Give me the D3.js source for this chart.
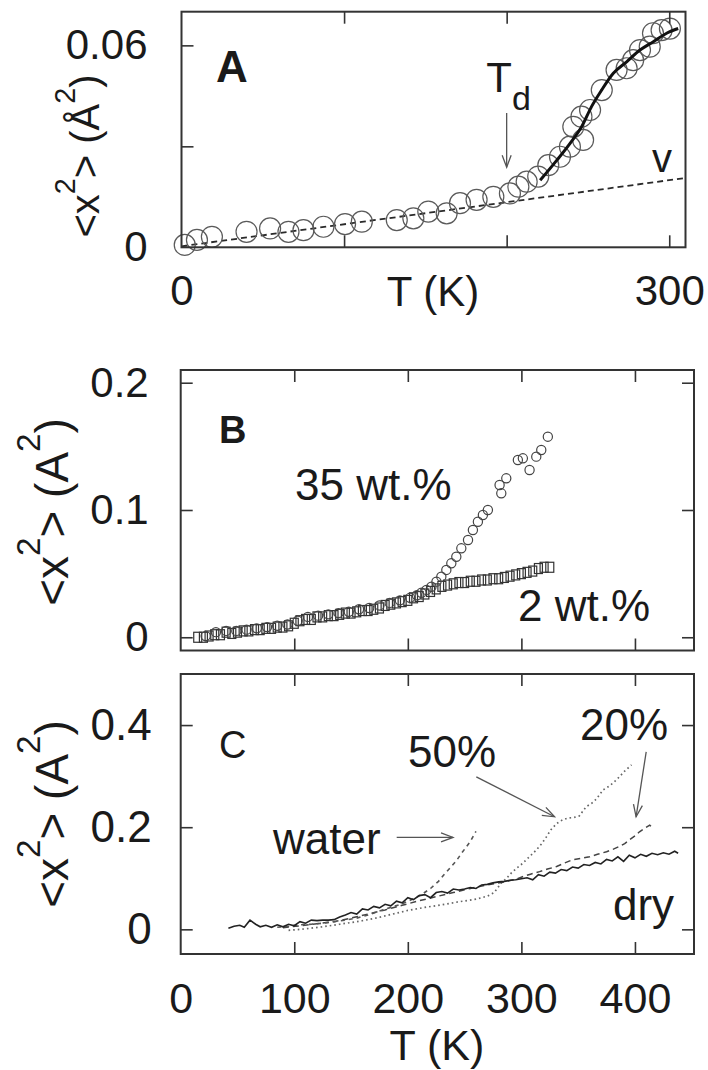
<!DOCTYPE html>
<html>
<head>
<meta charset="utf-8">
<script src="https://cdn.jsdelivr.net/npm/d3@7"></script>
<style>
  html, body { margin: 0; padding: 0; background: #fff; }
  svg { display: block; font-family: "Liberation Sans", Arial, Helvetica, sans-serif; }
</style>
</head>
<body>
<svg id="fig" width="708" height="1070"></svg>
<script>
// ---------- Panel A: mean-square displacement vs temperature ----------
const aTemp = [2, 9.5, 18.7, 40, 54.5, 65.8, 75, 87.3, 100.6, 110.9,
  132.4, 142.6, 151.8, 163.1, 171.3, 181.5, 191.8, 202, 207.2, 212.3,
  219.4, 225.6, 232.8, 238.9, 241, 246, 247, 251.3, 258.5, 267.6,
  273.8, 277.8, 282, 288, 290, 295.3, 300.4];
const aMsd = [0.0007, 0.0022, 0.0031, 0.0046, 0.0056, 0.0046, 0.0051, 0.0061, 0.0069, 0.0076,
  0.0081, 0.0086, 0.0106, 0.0101, 0.0131, 0.0141, 0.0150, 0.0160, 0.0180, 0.0195,
  0.0210, 0.0244, 0.0269, 0.0299, 0.0358, 0.0388, 0.0319, 0.0408, 0.0467, 0.0527,
  0.0532, 0.0556, 0.0586, 0.0596, 0.0636, 0.0645, 0.0650];
// fitted curve above the transition
const aFitTemp = [220.6, 230.9, 239, 246.1, 252.2, 258.4, 265.6, 273.8, 282, 290.2, 298.4, 305.5];
const aFitMsd  = [0.0199, 0.0259, 0.0309, 0.0358, 0.0418, 0.0467, 0.0517, 0.0551, 0.0586, 0.0611, 0.0636, 0.0650];
// harmonic (vibrational) line
const aHarmTemp = [0, 310];
const aHarmMsd  = [0.0003, 0.0206];
const aXTicks = [100, 200, 300];
const aXLabels = [0, 300];
const aYTicks = [0.03, 0.06];
const aYLabels = [0, 0.06];

// ---------- Panel B: two hydration levels ----------
const b2Temp = [15, 20, 25, 30, 35, 40, 45, 50, 55, 60, 65, 70, 75, 80, 85, 90, 95, 100,
  105, 110, 115, 120, 125, 130, 135, 140, 145, 150, 155, 160, 165, 170, 175, 180, 185,
  190, 195, 200, 205, 210, 215, 220, 225, 230, 235, 240, 245, 250, 255, 260, 265, 270,
  275, 280, 285, 290, 295, 300, 305, 310, 315, 320, 325];
const b2Msd = [0.000, 0.000, 0.001, 0.002, 0.002, 0.004, 0.003, 0.004, 0.005, 0.005, 0.006,
  0.006, 0.007, 0.007, 0.008, 0.008, 0.009, 0.011, 0.013, 0.014, 0.014, 0.016, 0.016, 0.017,
  0.017, 0.018, 0.019, 0.019, 0.020, 0.021, 0.021, 0.022, 0.023, 0.025, 0.026, 0.027, 0.028,
  0.029, 0.031, 0.032, 0.034, 0.036, 0.038, 0.040, 0.041, 0.042, 0.043, 0.043, 0.044, 0.044,
  0.045, 0.045, 0.046, 0.046, 0.047, 0.048, 0.049, 0.050, 0.051, 0.052, 0.054, 0.055, 0.055];
const b35Temp = [22, 31, 40, 49, 58, 67, 76, 85, 94, 103, 112, 121, 130, 139, 148, 157, 166,
  175, 184, 193, 202, 208, 212, 216.4, 220.8, 225.2, 229.5, 233.9, 238.3, 242.7, 247.1, 253,
  257.3, 261.7, 266.1, 270.5, 280.8, 282.3, 286.7, 296.9, 301.3, 307.2, 313.1, 317.5, 323.3];
const b35Msd = [0.001, 0.004, 0.005, 0.005, 0.006, 0.007, 0.008, 0.009, 0.010, 0.013, 0.016,
  0.017, 0.018, 0.019, 0.020, 0.022, 0.023, 0.025, 0.027, 0.029, 0.031, 0.033, 0.035, 0.0372,
  0.0397, 0.0437, 0.0476, 0.0529, 0.0581, 0.0633, 0.0699, 0.0764, 0.0843, 0.0908, 0.0961,
  0.1000, 0.1196, 0.1131, 0.1249, 0.1393, 0.1406, 0.1314, 0.1419, 0.1471, 0.1576];
const bXTicks = [100, 200, 300, 400];
const bYTicks = [0, 0.1, 0.2];

// ---------- Panel C: dry, 20 %, 50 % and bulk water ----------
const cDryTemp = [42, 47, 52, 56, 61, 66, 70, 75, 80, 85, 90, 95, 100, 105, 110, 115, 120,
  125, 130, 135, 140, 145, 150, 155, 160, 165, 170, 175, 180, 185, 190, 195, 200, 205, 210,
  215, 220, 225, 230, 235, 240, 245, 250, 255, 260, 265, 270, 275, 280, 285, 290, 295, 300,
  305, 310, 315, 320, 325, 330, 335, 340, 345, 350, 355, 360, 365, 370, 375, 380, 385, 390,
  395, 400, 405, 410, 415, 420, 425, 430, 435, 438];
const cDryMsd = [0.002, 0.006, 0.008, 0.004, 0.018, 0.010, 0.005, 0.008, 0.004, 0.009, 0.005,
  0.010, 0.007, 0.015, 0.012, 0.018, 0.017, 0.018, 0.018, 0.019, 0.024, 0.028, 0.033, 0.030,
  0.040, 0.038, 0.045, 0.042, 0.049, 0.046, 0.055, 0.052, 0.062, 0.058, 0.066, 0.068, 0.062,
  0.072, 0.074, 0.071, 0.079, 0.077, 0.079, 0.082, 0.080, 0.087, 0.088, 0.091, 0.093, 0.094,
  0.096, 0.097, 0.099, 0.101, 0.097, 0.107, 0.104, 0.112, 0.110, 0.117, 0.115, 0.122, 0.120,
  0.127, 0.125, 0.131, 0.128, 0.137, 0.134, 0.142, 0.133, 0.145, 0.140, 0.147, 0.143, 0.149,
  0.146, 0.150, 0.147, 0.153, 0.149];
const cWaterTemp = [85, 95, 105, 115, 125, 135, 145, 155, 165, 175, 185, 195, 205, 212, 220,
  227, 233, 238, 243, 247, 251, 255, 258, 260];
const cWaterMsd = [0.004, 0.006, 0.009, 0.010, 0.012, 0.015, 0.018, 0.022, 0.028, 0.036, 0.043,
  0.050, 0.060, 0.068, 0.080, 0.094, 0.110, 0.122, 0.135, 0.148, 0.160, 0.172, 0.184, 0.192];
const c50Temp = [95, 110, 125, 140, 155, 170, 185, 200, 215, 230, 245, 260, 270, 276, 282, 287,
  291, 296, 301, 307, 313, 318, 322, 326, 331, 336, 341, 346, 351, 357, 362, 366, 372, 377,
  381, 386, 391, 397];
const c50Msd = [-0.002, 0.001, 0.005, 0.010, 0.015, 0.021, 0.029, 0.037, 0.043, 0.048, 0.054,
  0.059, 0.065, 0.072, 0.090, 0.100, 0.110, 0.120, 0.129, 0.142, 0.155, 0.168, 0.181, 0.195,
  0.207, 0.214, 0.218, 0.219, 0.222, 0.240, 0.247, 0.255, 0.273, 0.280, 0.287, 0.298, 0.310,
  0.322];
const c20Temp = [90, 105, 120, 135, 150, 165, 180, 195, 210, 225, 240, 255, 270, 285, 295, 301,
  308, 316, 323, 331, 338, 345, 353, 360, 367, 375, 381, 386, 391, 395, 400, 404, 408, 413, 415];
const c20Msd = [0.003, 0.007, 0.011, 0.015, 0.022, 0.030, 0.038, 0.047, 0.056, 0.064, 0.072,
  0.080, 0.087, 0.093, 0.098, 0.103, 0.108, 0.113, 0.118, 0.123, 0.130, 0.136, 0.139, 0.142,
  0.147, 0.152, 0.157, 0.162, 0.168, 0.175, 0.183, 0.191, 0.197, 0.204, 0.200];
const cXTicks = [100, 200, 300, 400];
const cXLabels = [0, 100, 200, 300, 400];
const cYTicks = [0, 0.2, 0.4];

// ---------- helpers ----------
const svg = d3.select("#fig");
svg.append("rect").attr("width", 708).attr("height", 1070).attr("fill", "#fff");
const INK = "#1a1a1a";
const FRAME = "#333";

const defs = svg.append("defs");
defs.append("marker")
  .attr("id", "vhead").attr("viewBox", "-14 -7 16 14")
  .attr("refX", 0).attr("refY", 0)
  .attr("markerWidth", 16).attr("markerHeight", 14)
  .attr("markerUnits", "userSpaceOnUse").attr("orient", "auto")
  .append("path").attr("d", "M-12,-4.5 L0,0 L-12,4.5")
  .attr("fill", "none").attr("stroke", "#555").attr("stroke-width", 1.3);

const zip = (xs, ys) => xs.map((v, i) => [v, ys[i]]);

function cleanTicks(sel) {
  sel.select(".domain").remove();
  sel.selectAll(".tick line").attr("stroke", FRAME).attr("stroke-width", 1.6);
}
function cleanLabels(sel, size) {
  sel.select(".domain").remove();
  sel.selectAll(".tick line").remove();
  sel.selectAll(".tick text").attr("fill", INK).style("font-size", size + "px");
}

function frame(g, x, y, o) {
  const [x0, x1] = x.range(), [y0, y1] = y.range();
  g.append("g").attr("transform", `translate(0,${y0})`)
    .call(d3.axisBottom(x).tickValues(o.xTicks).tickSize(-12).tickFormat("")).call(cleanTicks);
  g.append("g").attr("transform", `translate(0,${y1})`)
    .call(d3.axisTop(x).tickValues(o.xTicks).tickSize(-12).tickFormat("")).call(cleanTicks);
  g.append("g").attr("transform", `translate(${x0},0)`)
    .call(d3.axisLeft(y).tickValues(o.yTicks).tickSize(-12).tickFormat("")).call(cleanTicks);
  if (o.right) {
    g.append("g").attr("transform", `translate(${x1},0)`)
      .call(d3.axisRight(y).tickValues(o.yTicks).tickSize(-12).tickFormat("")).call(cleanTicks);
  }
  g.append("rect").attr("x", x0).attr("y", y1).attr("width", x1 - x0).attr("height", y0 - y1)
    .attr("fill", "none").attr("stroke", FRAME).attr("stroke-width", 2);
}

function yTitle(g, cx, cy, size, unit) {
  const t = g.append("text")
    .attr("transform", `translate(${cx},${cy}) rotate(-90)`)
    .attr("text-anchor", "middle").attr("fill", INK).style("font-size", size + "px");
  const sup = size * 0.72, lift = size * 0.6;
  t.append("tspan").text("<x");
  t.append("tspan").text("2").style("font-size", sup + "px").attr("dy", -lift);
  t.append("tspan").text("> (" + unit).attr("dy", lift);
  t.append("tspan").text("2").style("font-size", sup + "px").attr("dy", -lift);
  t.append("tspan").text(")").attr("dy", lift);
}

function label(g, x, y, text, size, weight) {
  return g.append("text").attr("x", x).attr("y", y).attr("fill", INK)
    .style("font-size", size + "px").style("font-weight", weight || "normal").text(text);
}

function arrow(g, x1, y1, x2, y2) {
  g.append("line").attr("x1", x1).attr("y1", y1).attr("x2", x2).attr("y2", y2)
    .attr("stroke", "#555").attr("stroke-width", 1.3).attr("marker-end", "url(#vhead)");
}

// ---------- Panel A ----------
{
  const g = svg.append("g");
  const x = d3.scaleLinear().domain([0, 310]).range([181.5, 685.5]);
  const y = d3.scaleLinear().domain([0, 0.07]).range([247.3, 11.7]);

  g.append("path").datum(zip(aHarmTemp, aHarmMsd))
    .attr("d", d3.line().x(d => x(d[0])).y(d => y(d[1])))
    .attr("fill", "none").attr("stroke", "#2a2a2a").attr("stroke-width", 1.8)
    .attr("stroke-dasharray", "6,4");

  g.append("g").selectAll("circle").data(zip(aTemp, aMsd)).join("circle")
    .attr("cx", d => x(d[0])).attr("cy", d => y(d[1])).attr("r", 10.5)
    .attr("fill", "none").attr("stroke", "#5a5a5a").attr("stroke-width", 1.2);

  g.append("path").datum(zip(aFitTemp, aFitMsd))
    .attr("d", d3.line().curve(d3.curveMonotoneX).x(d => x(d[0])).y(d => y(d[1])))
    .attr("fill", "none").attr("stroke", "#111").attr("stroke-width", 3);

  frame(g, x, y, { xTicks: aXTicks, yTicks: aYTicks, right: false });

  g.append("g").attr("transform", "translate(181.5,0)")
    .call(d3.axisLeft(y).tickValues(aYLabels).tickSize(0).tickPadding(34)
      .tickFormat(d => d === 0 ? "0" : d.toFixed(2)))
    .call(s => cleanLabels(s, 42));
  g.append("g").attr("transform", "translate(0,247.3)")
    .call(d3.axisBottom(x).tickValues(aXLabels).tickSize(0).tickPadding(28).tickFormat(d3.format("d")))
    .call(s => cleanLabels(s, 42));
  label(g, 433, 306, "T (K)", 42).attr("text-anchor", "middle");
  yTitle(g, 99, 156, 40, "Å");

  label(g, 216, 82, "A", 44, "bold");
  const td = label(g, x(187.5), y(0.0462), "T", 42);
  td.append("tspan").text("d").style("font-size", "34px").attr("dy", 18);
  arrow(g, x(200), y(0.0399), x(200), y(0.0238));
  label(g, 652, 172, "v", 40);
}

// ---------- Panel B ----------
{
  const g = svg.append("g");
  const x = d3.scaleLinear().domain([0, 452]).range([180.7, 694]);
  const y = d3.scaleLinear().domain([-0.0104, 0.21]).range([650.5, 370]);

  g.append("g").selectAll("rect").data(zip(b2Temp, b2Msd)).join("rect")
    .attr("x", d => x(d[0]) - 4).attr("y", d => y(d[1]) - 5)
    .attr("width", 8).attr("height", 10)
    .attr("fill", "none").attr("stroke", "#333").attr("stroke-width", 1.2);

  g.append("g").selectAll("circle").data(zip(b35Temp, b35Msd)).join("circle")
    .attr("cx", d => x(d[0])).attr("cy", d => y(d[1])).attr("r", 4.6)
    .attr("fill", "none").attr("stroke", "#444").attr("stroke-width", 1.2);

  frame(g, x, y, { xTicks: bXTicks, yTicks: bYTicks, right: true });

  g.append("g").attr("transform", "translate(180.7,0)")
    .call(d3.axisLeft(y).tickValues(bYTicks).tickSize(0).tickPadding(32)
      .tickFormat(d => d === 0 ? "0" : d.toFixed(1)))
    .call(s => cleanLabels(s, 42));
  yTitle(g, 68, 512, 46, "A");

  label(g, 219, 443, "B", 38, "bold");
  label(g, 295, 500, "35 wt.%", 44);
  label(g, 518, 621, "2 wt.%", 44);
}

// ---------- Panel C ----------
{
  const g = svg.append("g");
  const x = d3.scaleLinear().domain([0, 452]).range([180.7, 694]);
  const y = d3.scaleLinear().domain([-0.0483, 0.5]).range([954, 674]);
  const line = d3.line().x(d => x(d[0])).y(d => y(d[1]));

  g.append("path").datum(zip(c50Temp, c50Msd)).attr("d", line)
    .attr("fill", "none").attr("stroke", "#666").attr("stroke-width", 1.7)
    .attr("stroke-dasharray", "1.6,3");
  g.append("path").datum(zip(c20Temp, c20Msd)).attr("d", line)
    .attr("fill", "none").attr("stroke", "#444").attr("stroke-width", 1.5)
    .attr("stroke-dasharray", "6,4");
  g.append("path").datum(zip(cWaterTemp, cWaterMsd)).attr("d", line)
    .attr("fill", "none").attr("stroke", "#555").attr("stroke-width", 1.6)
    .attr("stroke-dasharray", "4,4");
  g.append("path").datum(zip(cDryTemp, cDryMsd)).attr("d", line)
    .attr("fill", "none").attr("stroke", "#222").attr("stroke-width", 1.6);

  frame(g, x, y, { xTicks: cXTicks, yTicks: cYTicks, right: true });

  g.append("g").attr("transform", "translate(180.7,0)")
    .call(d3.axisLeft(y).tickValues(cYTicks).tickSize(0).tickPadding(29)
      .tickFormat(d => d === 0 ? "0" : d.toFixed(1)))
    .call(s => cleanLabels(s, 44));
  g.append("g").attr("transform", "translate(0,954)")
    .call(d3.axisBottom(x).tickValues(cXLabels).tickSize(0).tickPadding(28).tickFormat(d3.format("d")))
    .call(s => cleanLabels(s, 43));
  label(g, 437, 1060, "T (K)", 43).attr("text-anchor", "middle");
  yTitle(g, 68, 814, 46, "A");

  label(g, 219, 758, "C", 38);
  label(g, 273, 854, "water", 44);
  arrow(g, x(190.2), y(0.18), x(239.8), y(0.18));
  label(g, 408, 767, "50%", 44);
  arrow(g, x(260.3), y(0.2986), x(329.2), y(0.2204));
  label(g, 580, 740, "20%", 44);
  arrow(g, x(409.9), y(0.3476), x(401), y(0.2204));
  label(g, 613, 920, "dry", 44);
}
</script>
</body>
</html>
